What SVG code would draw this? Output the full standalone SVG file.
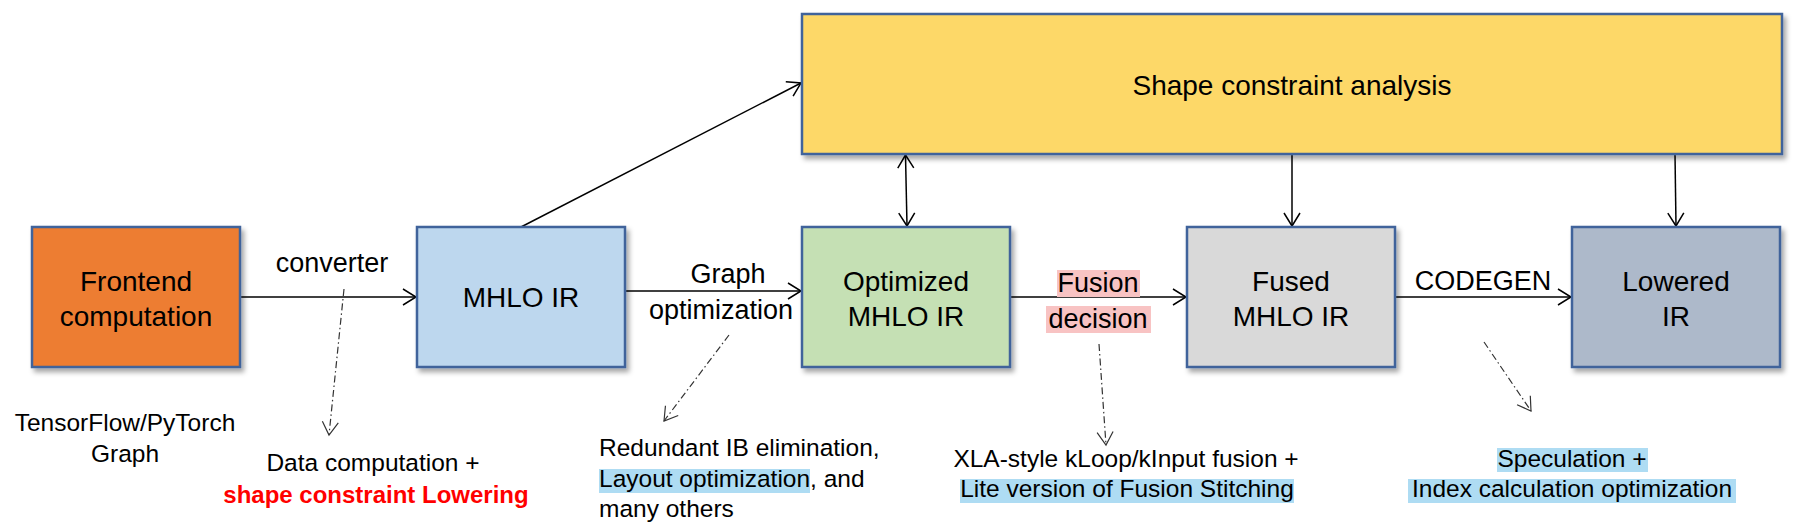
<svg xmlns="http://www.w3.org/2000/svg" width="1802" height="532" viewBox="0 0 1802 532">
<style>
  text { font-family: "Liberation Sans", Arial, sans-serif; fill: #000; }
  .box { stroke: #41639B; stroke-width: 2.5; filter: url(#shadow); }
  .bt { font-size: 28px; text-anchor: middle; }
  .lbl { font-size: 27px; text-anchor: middle; }
  .note { font-size: 24.5px; }
  .mid { text-anchor: middle; }
  .conn { stroke: #000; stroke-width: 1.5; fill: none; marker-end: url(#arr); }
  .dash { stroke: #333; stroke-width: 1.2; fill: none; stroke-dasharray: 7 3 1.5 3; marker-end: url(#arrd); }
  .hb { fill: #AEDCF3; }
  .hp { fill: #F8C3C3; }
</style>
<defs>
  <filter id="shadow" x="-10%" y="-10%" width="125%" height="130%">
    <feDropShadow dx="3" dy="4" stdDeviation="2.5" flood-color="#000" flood-opacity="0.35"/>
  </filter>
  <marker id="arr" viewBox="-15 -10 17 20" refX="0" refY="0" markerWidth="17" markerHeight="20" markerUnits="userSpaceOnUse" orient="auto-start-reverse">
    <path d="M-13,-8 L0,0 L-13,8" fill="none" stroke="#000" stroke-width="1.5"/>
  </marker>
  <marker id="arrd" viewBox="-15 -10 17 20" refX="0" refY="0" markerWidth="17" markerHeight="20" markerUnits="userSpaceOnUse" orient="auto">
    <path d="M-13,-8 L0,0 L-13,8" fill="none" stroke="#333" stroke-width="1.2"/>
  </marker>
</defs>
<rect width="1802" height="532" fill="#fff"/>

<g id="connectors">
  <line class="conn" x1="240" y1="297" x2="416" y2="297"/>
  <line class="conn" x1="625" y1="291" x2="801" y2="291"/>
  <line class="conn" x1="1010" y1="297" x2="1186" y2="297"/>
  <line class="conn" x1="1395" y1="297" x2="1571" y2="297"/>
  <line class="conn" x1="521" y1="227" x2="801" y2="83"/>
  <line class="conn" x1="905.5" y1="155" x2="907" y2="226" marker-start="url(#arr)"/>
  <line class="conn" x1="1292" y1="154" x2="1292" y2="226"/>
  <line class="conn" x1="1675" y1="154" x2="1676" y2="226"/>
  <line class="dash" x1="344" y1="289" x2="329" y2="435"/>
  <line class="dash" x1="729" y1="335" x2="664" y2="421"/>
  <line class="dash" x1="1099" y1="344" x2="1106" y2="445"/>
  <line class="dash" x1="1484" y1="342" x2="1531" y2="411"/>
</g>

<g id="shape-analysis">
  <rect class="box" x="802" y="14" width="980" height="140" fill="#FDD868"/>
  <text class="bt" x="1292" y="95">Shape constraint analysis</text>
</g>

<g id="frontend">
  <rect class="box" x="32" y="227" width="208" height="140" fill="#ED7D31"/>
  <text class="bt" x="136" y="291">Frontend</text>
  <text class="bt" x="136" y="326">computation</text>
</g>

<g id="mhlo">
  <rect class="box" x="417" y="227" width="208" height="140" fill="#BDD7EE"/>
  <text class="bt" x="521" y="307">MHLO IR</text>
</g>

<g id="optimized">
  <rect class="box" x="802" y="227" width="208" height="140" fill="#C5E0B4"/>
  <text class="bt" x="906" y="291">Optimized</text>
  <text class="bt" x="906" y="326">MHLO IR</text>
</g>

<g id="fused">
  <rect class="box" x="1187" y="227" width="208" height="140" fill="#D9D9D9"/>
  <text class="bt" x="1291" y="291">Fused</text>
  <text class="bt" x="1291" y="326">MHLO IR</text>
</g>

<g id="lowered">
  <rect class="box" x="1572" y="227" width="208" height="140" fill="#ADB9CA"/>
  <text class="bt" x="1676" y="291">Lowered</text>
  <text class="bt" x="1676" y="326">IR</text>
</g>

<g id="labels">
  <text class="lbl" x="332" y="272">converter</text>
  <text class="lbl" x="728" y="283">Graph</text>
  <text class="lbl" x="721" y="319">optimization</text>
  <rect class="hp" x="1057" y="270" width="83" height="27"/>
  <rect class="hp" x="1046" y="306" width="105" height="27"/>
  <text class="lbl" x="1098" y="292">Fusion</text>
  <text class="lbl" x="1098" y="328">decision</text>
  <text class="lbl" x="1483" y="290">CODEGEN</text>
</g>

<g id="notes">
  <text class="note mid" x="125" y="431">TensorFlow/PyTorch</text>
  <text class="note mid" x="125" y="462">Graph</text>
  <text class="note mid" x="373" y="471">Data computation +</text>
  <text class="mid" x="376" y="503" style="font-size:24px;font-weight:bold;fill:#FF0000">shape constraint Lowering</text>

  <rect class="hb" x="599" y="469" width="211" height="24"/>
  <text class="note" x="599" y="456">Redundant IB elimination,</text>
  <text class="note" x="599" y="487">Layout optimization, and</text>
  <text class="note" x="599" y="517">many others</text>

  <rect class="hb" x="960" y="479" width="334" height="24"/>
  <text class="note mid" x="1126" y="467">XLA-style kLoop/kInput fusion +</text>
  <text class="note mid" x="1127" y="497">Lite version of Fusion Stitching</text>

  <rect class="hb" x="1497" y="448" width="151" height="24"/>
  <rect class="hb" x="1408" y="479" width="328" height="24"/>
  <text class="note mid" x="1572" y="467">Speculation +</text>
  <text class="note mid" x="1572" y="497">Index calculation optimization</text>
</g>
</svg>
